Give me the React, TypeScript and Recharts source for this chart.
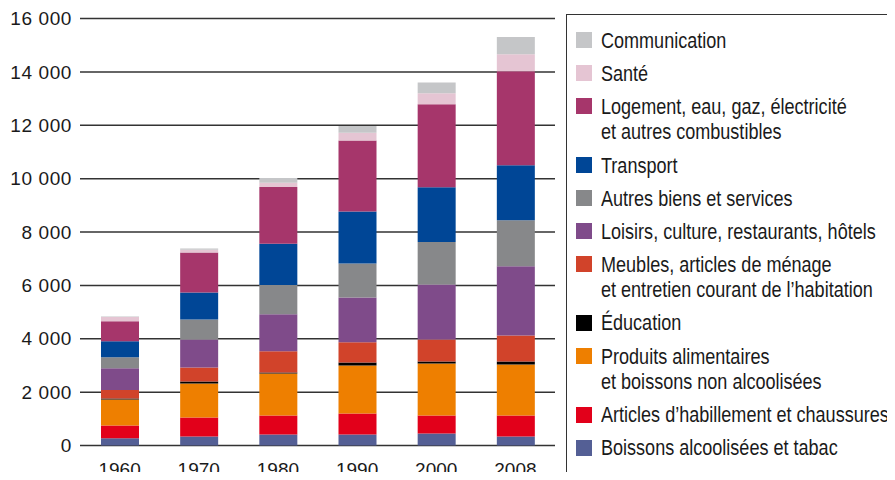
import React from 'react';
import { BarChart, Bar, XAxis, YAxis, CartesianGrid, Legend } from 'recharts';

const years = ['1960', '1970', '1980', '1990', '2000', '2008'];

const boissons = [275, 340, 410, 410, 450, 340];
const habillement = [475, 710, 715, 790, 675, 785];
const produits = [975, 1275, 1575, 1800, 1950, 1910];
const education = [40, 75, 40, 110, 75, 115];
const meubles = [315, 525, 790, 760, 825, 975];
const loisirs = [815, 1050, 1390, 1675, 2060, 2590];
const autres = [410, 750, 1090, 1275, 1590, 1725];
const transport = [600, 1010, 1550, 1950, 2050, 2060];
const logement = [750, 1500, 2125, 2660, 3110, 3525];
const sante = [160, 100, 160, 290, 410, 640];
const communication = [20, 50, 175, 250, 410, 640];

const yTicks = [0, 2000, 4000, 6000, 8000, 10000, 12000, 14000, 16000];

// bottom to top stacking order
const series = [
  { key: 'boissons', name: 'Boissons alcoolisées et tabac', color: '#545f95', values: boissons },
  { key: 'habillement', name: 'Articles d’habillement et chaussures', color: '#e2001a', values: habillement },
  { key: 'produits', name: 'Produits alimentaires\net boissons non alcoolisées', color: '#ee7f00', values: produits },
  { key: 'education', name: 'Éducation', color: '#000000', values: education },
  { key: 'meubles', name: 'Meubles, articles de ménage\net entretien courant de l’habitation', color: '#d1432a', values: meubles },
  { key: 'loisirs', name: 'Loisirs, culture, restaurants, hôtels', color: '#7f4b8a', values: loisirs },
  { key: 'autres', name: 'Autres biens et services', color: '#87888a', values: autres },
  { key: 'transport', name: 'Transport', color: '#004696', values: transport },
  { key: 'logement', name: 'Logement, eau, gaz, électricité\net autres combustibles', color: '#a6366b', values: logement },
  { key: 'sante', name: 'Santé', color: '#e5c5d3', values: sante },
  { key: 'communication', name: 'Communication', color: '#c5c6c8', values: communication },
];

const data = years.map((year, i) => {
  const row: Record<string, any> = { year };
  series.forEach((s) => {
    row[s.key] = s.values[i];
  });
  return row;
});

const SANS = "'Liberation Sans', Arial, sans-serif";

const fmt = (v: number) => String(v).replace(/\B(?=(\d{3})+(?!\d))/g, ' ');

const LegendBox = (props: any) => {
  const payload: any[] = props.payload || [];
  const ordered = [...series].reverse().map((s) => {
    const p = payload.find((it) => it.value === s.name);
    return { name: s.name, color: p ? p.color : s.color };
  });
  return (
    <div
      style={{
        boxSizing: 'border-box',
        width: 345,
        height: 463,
        border: '1.5px solid #333',
        padding: '12.8px 0 0 8.5px',
        fontFamily: SANS,
        fontSize: 22,
        lineHeight: '25.5px',
        color: '#1a1a1a',
        background: '#fff',
        overflow: 'hidden',
      }}
    >
      {ordered.map((it) => (
        <div key={it.name} style={{ display: 'flex', alignItems: 'flex-start', marginBottom: 7.6 }}>
          <span style={{ width: 16, height: 16, background: it.color, marginTop: 4.4, flex: 'none' }} />
          <span
            style={{
              marginLeft: 9.5,
              whiteSpace: 'pre',
              display: 'inline-block',
              transform: 'scaleX(0.82)',
              transformOrigin: 'left top',
            }}
          >
            {it.name}
          </span>
        </div>
      ))}
    </div>
  );
};

export default function App() {
  return (
    <div style={{ margin: -8, width: 895, height: 480, overflow: 'hidden', position: 'relative', background: '#fff' }}>
      <BarChart
        width={895}
        height={480}
        data={data}
        margin={{ top: 18.5, right: 340, left: 0, bottom: 0 }}
        barSize={38}
      >
        <CartesianGrid vertical={false} stroke="#333" strokeWidth={1.5} />
        <XAxis
          dataKey="year"
          height={34.5}
          tickLine={false}
          axisLine={false}
          tickMargin={11}
          tick={{ fontSize: 19, fill: '#1a1a1a', fontFamily: SANS }}
        />
        <YAxis
          width={80}
          domain={[0, 16000]}
          ticks={yTicks}
          tickFormatter={fmt}
          tickLine={false}
          axisLine={false}
          tick={{ fontSize: 19, fill: '#1a1a1a', fontFamily: SANS, letterSpacing: 0.6 }}
        />
        <Legend
          layout="vertical"
          align="center"
          verticalAlign="middle"
          content={<LegendBox />}
          wrapperStyle={{ left: 566, top: 14, width: 345, height: 463 }}
        />
        {series.map((s) => (
          <Bar key={s.key} dataKey={s.key} name={s.name} stackId="a" fill={s.color} isAnimationActive={false} />
        ))}
      </BarChart>
    </div>
  );
}
